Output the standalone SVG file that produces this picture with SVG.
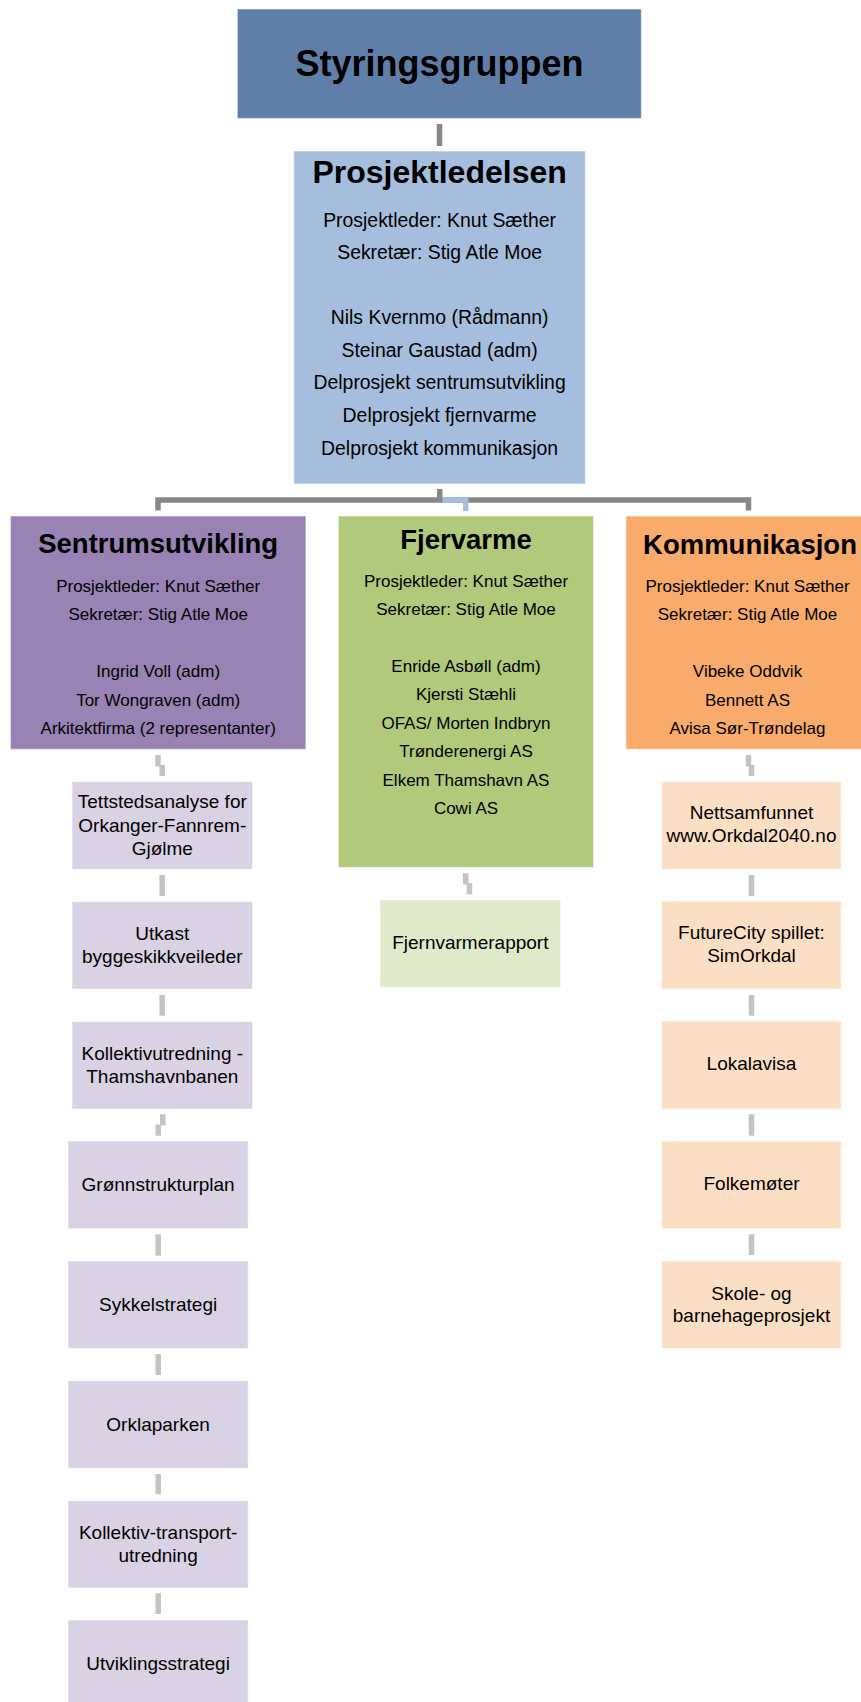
<svg xmlns="http://www.w3.org/2000/svg" width="861" height="1702" viewBox="0 0 861 1702">
<style>
text{font-family:"Liberation Sans",Arial,sans-serif;fill:#000;text-anchor:middle}
.t1{font-size:36px;font-weight:bold}
.t2{font-size:32px;font-weight:bold}
.t3{font-size:27.5px;font-weight:bold}
.b1{font-size:19.4px}
.b2{font-size:17px}
.b3{font-size:19px}
.box{stroke:#ffffff;stroke-opacity:0.5;stroke-width:1.2}
.ctop{fill:none;stroke:#878787;stroke-width:5.5}
.cblue{fill:none;stroke:#a6bedd;stroke-width:5.5}
.clow{fill:none;stroke:#c3c3c3;stroke-width:5.5}
.lp{fill:#d9d1e4}
.lg{fill:#e0e9ca}
.lo{fill:#fbdfc5}
</style>
<rect width="861" height="1702" fill="#ffffff"/>
<g id="connectors">
<path class="ctop" d="M439.5,124 V146"/>
<path class="ctop" d="M439.7,489 V500"/>
<path class="ctop" d="M158,510.5 V500 H748.5 V510.5"/>
<path class="cblue" d="M442.5,500 H465.7 V511"/>
<path class="clow" d="M158,755 V766.5 M162.2,765 V776"/>
<path class="clow" d="M162.2,875 V896"/>
<path class="clow" d="M162.2,995 V1015.7"/>
<path class="clow" d="M162.8,1114.3 V1125.5 M158.3,1124.5 V1135.7"/>
<path class="clow" d="M158.2,1234.3 V1255.7"/>
<path class="clow" d="M158.2,1354 V1375"/>
<path class="clow" d="M158.2,1474 V1494.3"/>
<path class="clow" d="M158.2,1593.3 V1614"/>
<path class="clow" d="M465.7,873.3 V884.5 M469.5,883 V894.3"/>
<path class="clow" d="M748.5,755 V766.5 M751.5,765 V776"/>
<path class="clow" d="M751.5,875 V896"/>
<path class="clow" d="M751.5,995 V1015.7"/>
<path class="clow" d="M751.5,1114.3 V1135.7"/>
<path class="clow" d="M751.5,1234.3 V1255"/>
</g>
<g id="styringsgruppen">
<rect class="box" x="237.3" y="9" width="404.1" height="109.5" fill="#5f7fa8"/>
<text class="t1" x="439.4" y="75.5">Styringsgruppen</text>
</g>
<g id="prosjektledelsen">
<rect class="box" x="293.8" y="151" width="291.6" height="333" fill="#a6bedd"/>
<text class="t2" x="439.6" y="183">Prosjektledelsen</text>
<text class="b1" x="439.6" y="226.7">Prosjektleder: Knut Sæther</text>
<text class="b1" x="439.6" y="259.3">Sekretær: Stig Atle Moe</text>
<text class="b1" x="439.6" y="324">Nils Kvernmo (Rådmann)</text>
<text class="b1" x="439.6" y="356.7">Steinar Gaustad (adm)</text>
<text class="b1" x="439.6" y="389.3">Delprosjekt sentrumsutvikling</text>
<text class="b1" x="439.6" y="422">Delprosjekt fjernvarme</text>
<text class="b1" x="439.6" y="454.7">Delprosjekt kommunikasjon</text>
</g>
<g id="sentrumsutvikling">
<rect class="box" x="10.4" y="516" width="295.5" height="233.3" fill="#9983b5"/>
<text class="t3" x="158.2" y="553">Sentrumsutvikling</text>
<text class="b2" x="158.2" y="591.7">Prosjektleder: Knut Sæther</text>
<text class="b2" x="158.2" y="620">Sekretær: Stig Atle Moe</text>
<text class="b2" x="158.2" y="676.7">Ingrid Voll (adm)</text>
<text class="b2" x="158.2" y="705.7">Tor Wongraven (adm)</text>
<text class="b2" x="158.2" y="734">Arkitektfirma (2 representanter)</text>
</g>
<g id="fjervarme">
<rect class="box" x="338.3" y="516" width="255.3" height="351.5" fill="#b1c97b"/>
<text class="t3" x="466" y="548.5">Fjervarme</text>
<text class="b2" x="466" y="586.7">Prosjektleder: Knut Sæther</text>
<text class="b2" x="466" y="615">Sekretær: Stig Atle Moe</text>
<text class="b2" x="466" y="671.7">Enride Asbøll (adm)</text>
<text class="b2" x="466" y="700">Kjersti Stæhli</text>
<text class="b2" x="466" y="729.3">OFAS/ Morten Indbryn</text>
<text class="b2" x="466" y="757.3">Trønderenergi AS</text>
<text class="b2" x="466" y="786">Elkem Thamshavn AS</text>
<text class="b2" x="466" y="814">Cowi AS</text>
</g>
<g id="kommunikasjon">
<rect class="box" x="625.8" y="516" width="248" height="233.3" fill="#f8ab6a"/>
<text class="t3" x="750" y="553.5">Kommunikasjon</text>
<text class="b2" x="747.5" y="591.7">Prosjektleder: Knut Sæther</text>
<text class="b2" x="747.5" y="620">Sekretær: Stig Atle Moe</text>
<text class="b2" x="747.5" y="676.7">Vibeke Oddvik</text>
<text class="b2" x="747.5" y="705.7">Bennett AS</text>
<text class="b2" x="747.5" y="734">Avisa Sør-Trøndelag</text>
</g>
<g id="tettstedsanalyse">
<rect class="box lp" x="72" y="781.7" width="180.6" height="87.6"/>
<text class="b3" x="162.3" y="808.3">Tettstedsanalyse for</text>
<text class="b3" x="162.3" y="831.5">Orkanger-Fannrem-</text>
<text class="b3" x="162.3" y="854.5">Gjølme</text>
</g>
<g id="utkast">
<rect class="box lp" x="72" y="901.7" width="180.6" height="87.4"/>
<text class="b3" x="162.3" y="940">Utkast</text>
<text class="b3" x="162.3" y="962.7">byggeskikkveileder</text>
</g>
<g id="kollektivutredning">
<rect class="box lp" x="72" y="1021.7" width="180.6" height="87.3"/>
<text class="b3" x="162.3" y="1060">Kollektivutredning -</text>
<text class="b3" x="162.3" y="1082.7">Thamshavnbanen</text>
</g>
<g id="gronnstrukturplan">
<rect class="box lp" x="68" y="1141" width="180.2" height="87.7"/>
<text class="b3" x="158.1" y="1190.7">Grønnstrukturplan</text>
</g>
<g id="sykkelstrategi">
<rect class="box lp" x="68" y="1261" width="180.2" height="87.5"/>
<text class="b3" x="158.1" y="1310.7">Sykkelstrategi</text>
</g>
<g id="orklaparken">
<rect class="box lp" x="68" y="1380.7" width="180.2" height="87.6"/>
<text class="b3" x="158.1" y="1430.7">Orklaparken</text>
</g>
<g id="kollektivtransport">
<rect class="box lp" x="68" y="1500.7" width="180.2" height="87.3"/>
<text class="b3" x="158.1" y="1539.3">Kollektiv-transport-</text>
<text class="b3" x="158.1" y="1561.7">utredning</text>
</g>
<g id="utviklingsstrategi">
<rect class="box lp" x="68" y="1620" width="180.2" height="87.5"/>
<text class="b3" x="158.1" y="1670">Utviklingsstrategi</text>
</g>
<g id="fjernvarmerapport">
<rect class="box lg" x="380" y="900" width="180.7" height="87.3"/>
<text class="b3" x="470.3" y="949.3">Fjernvarmerapport</text>
</g>
<g id="nettsamfunnet">
<rect class="box lo" x="661.7" y="781.7" width="179.6" height="87.6"/>
<text class="b3" x="751.5" y="819.3">Nettsamfunnet</text>
<text class="b3" x="751.5" y="841.7">www.Orkdal2040.no</text>
</g>
<g id="futurecity">
<rect class="box lo" x="661.7" y="901" width="179.6" height="88"/>
<text class="b3" x="751.5" y="939.3">FutureCity spillet:</text>
<text class="b3" x="751.5" y="962.3">SimOrkdal</text>
</g>
<g id="lokalavisa">
<rect class="box lo" x="661.7" y="1021" width="179.6" height="88"/>
<text class="b3" x="751.5" y="1070">Lokalavisa</text>
</g>
<g id="folkemoter">
<rect class="box lo" x="661.7" y="1141" width="179.6" height="87.7"/>
<text class="b3" x="751.5" y="1190">Folkemøter</text>
</g>
<g id="skole">
<rect class="box lo" x="661.7" y="1261" width="179.6" height="87.5"/>
<text class="b3" x="751.5" y="1299.5">Skole- og</text>
<text class="b3" x="751.5" y="1322.3">barnehageprosjekt</text>
</g>
</svg>
